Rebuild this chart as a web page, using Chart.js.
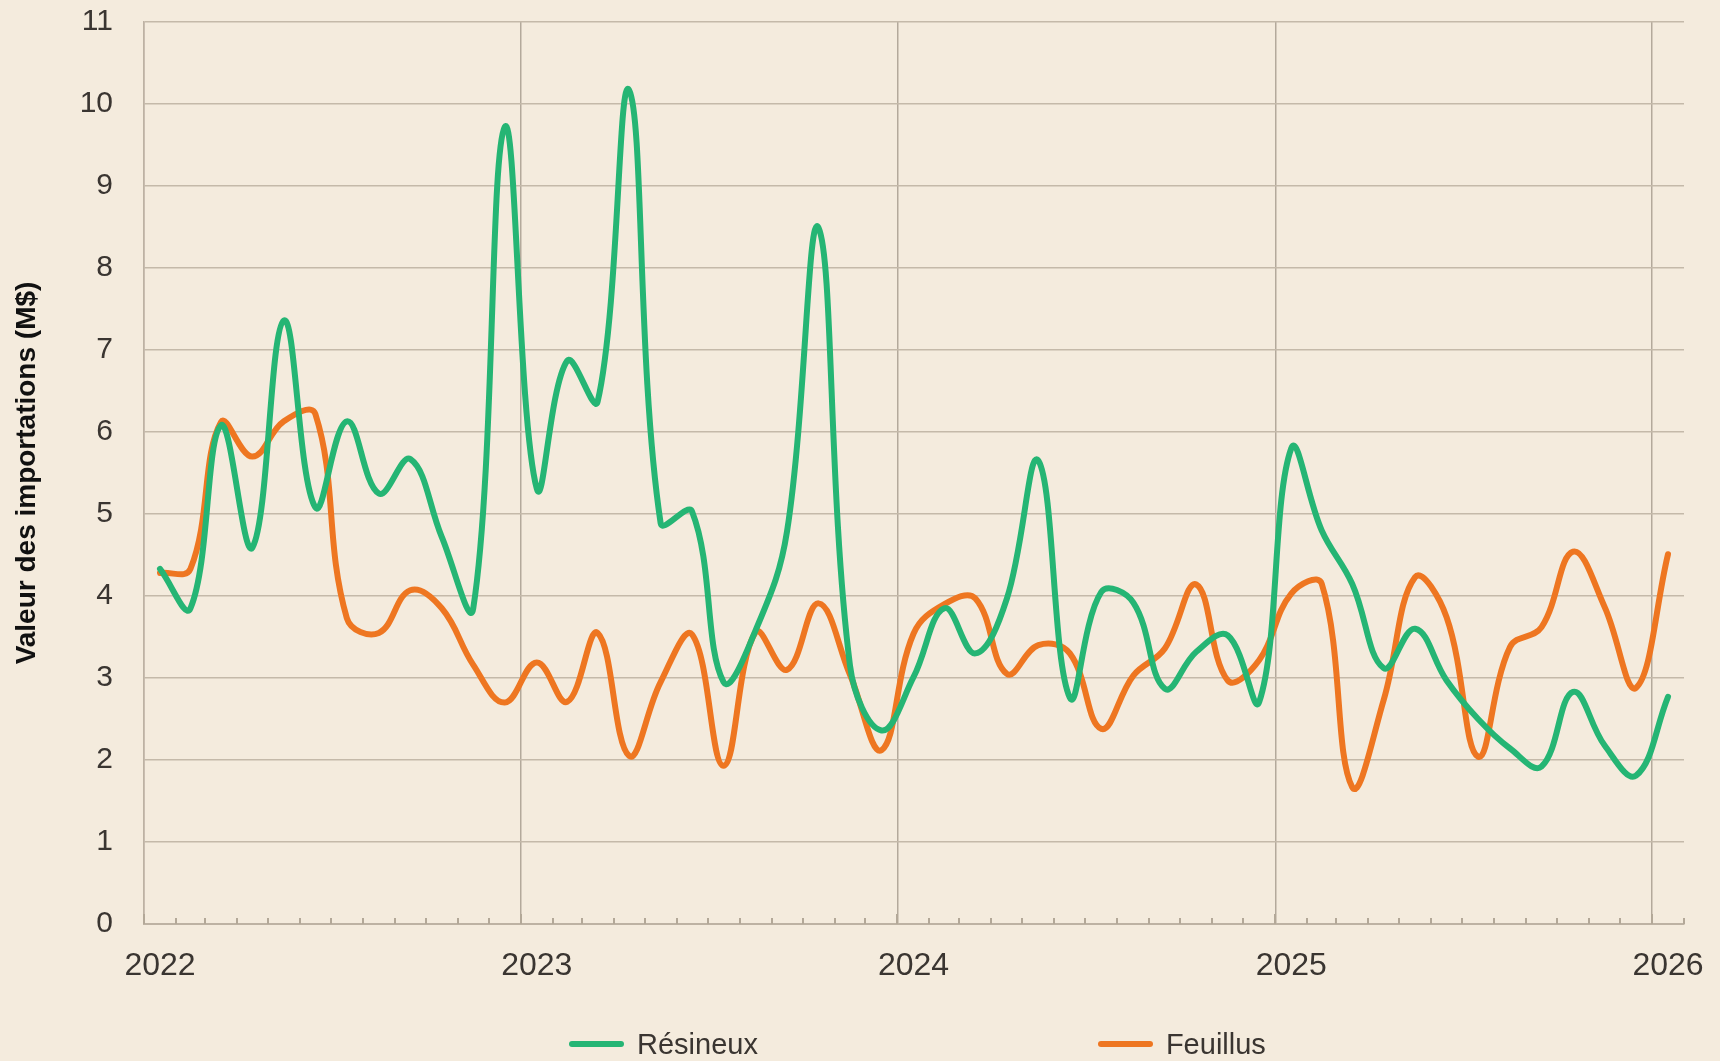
<!DOCTYPE html>
<html>
<head>
<meta charset="utf-8">
<script src="https://cdn.jsdelivr.net/npm/chart.js@4.4.1/dist/chart.umd.min.js"></script>
<style>
  html, body { margin: 0; padding: 0; background: #f4ebdd; }
  #wrap { position: relative; width: 1720px; height: 1061px; background: #f4ebdd; overflow: hidden; }
  #c { position: absolute; left: 0; top: 0; }
  #legend { position: absolute; left: 569px; top: 1024px; height: 40px; display: flex; align-items: center; gap: 340px;
            font-family: "Liberation Sans", Arial, sans-serif; font-size: 29px; color: #3a3531; }
  .item { display: flex; align-items: center; white-space: nowrap; }
  .sw { width: 55px; height: 6px; border-radius: 3px; margin-right: 13px; }
</style>
</head>
<body>
<div id="wrap">
  <canvas id="c" width="1720" height="1061"></canvas>
  <div id="legend"></div>
</div>
<script>
// ---- Data ----
const months = [
  '2022-01','2022-02','2022-03','2022-04','2022-05','2022-06','2022-07','2022-08','2022-09','2022-10','2022-11','2022-12',
  '2023-01','2023-02','2023-03','2023-04','2023-05','2023-06','2023-07','2023-08','2023-09','2023-10','2023-11','2023-12',
  '2024-01','2024-02','2024-03','2024-04','2024-05','2024-06','2024-07','2024-08','2024-09','2024-10','2024-11','2024-12',
  '2025-01','2025-02','2025-03','2025-04','2025-05','2025-06','2025-07','2025-08','2025-09','2025-10','2025-11','2025-12',
  '2026-01'
];
const resineux = [
  4.33, 3.85, 6.08, 4.59, 7.36, 5.08, 6.13, 5.25, 5.67, 4.72, 3.85, 9.72,
  5.31, 6.87, 6.37, 10.17, 4.89, 5.03, 2.95, 3.58, 4.79, 8.49, 3.15, 2.36,
  3.01, 3.85, 3.30, 3.97, 5.65, 2.76, 4.05, 3.92, 2.87, 3.32, 3.52, 2.71,
  5.80, 4.80, 4.15, 3.12, 3.60, 2.97, 2.50, 2.14, 1.92, 2.83, 2.18, 1.81,
  2.77
];
const feuillus = [
  4.28, 4.33, 6.12, 5.70, 6.13, 6.22, 3.73, 3.55, 4.07, 3.85, 3.16, 2.70,
  3.19, 2.71, 3.55, 2.05, 2.95, 3.53, 1.93, 3.56, 3.10, 3.91, 3.04, 2.12,
  3.54, 3.90, 3.97, 3.05, 3.40, 3.30, 2.38, 3.03, 3.36, 4.14, 2.97, 3.22,
  4.03, 4.15, 1.67, 2.73, 4.23, 3.74, 2.04, 3.38, 3.62, 4.54, 3.87, 2.88,
  4.51
];
const seriesNames = ['Résineux', 'Feuillus'];
const yearLabels = ['2022', '2023', '2024', '2025', '2026'];
const yTicks = [0, 1, 2, 3, 4, 5, 6, 7, 8, 9, 10, 11];
const yTitle = 'Valeur des importations (M$)';

// ---- Helpers (x = days since 2022-01-01) ----
const ORIGIN = Date.UTC(2022, 0, 1);
const DAY = 86400000;
function dayOf(y, m) { return (Date.UTC(y, m, 1) - ORIGIN) / DAY; } // m zero-based
function midMonth(str) {
  const [y, m] = str.split('-').map(Number);
  return (dayOf(y, m - 1) + dayOf(y, m)) / 2;
}
const yearDays = yearLabels.map(y => dayOf(Number(y), 0));
const xMax = dayOf(2026, 1);

const GREEN = '#25b574';
const ORANGE = '#ee7621';
const TEXT = '#3a3531';

Chart.defaults.font.family = "'Liberation Sans', Arial, sans-serif";

const monthTicks = {
  id: 'monthTicks',
  beforeDatasetsDraw(chart) {
    const xs = chart.scales.x;
    const ctx = chart.ctx;
    const bottom = chart.chartArea.bottom;
    ctx.save();
    ctx.strokeStyle = '#b3a898';
    ctx.lineWidth = 2;
    for (let y = 2022; y <= 2026; y++) {
      for (let m = 0; m < 12; m++) {
        const d = dayOf(y, m);
        if (d > xMax) break;
        const px = Math.round(xs.getPixelForValue(d));
        const len = m === 0 ? 10 : 6;
        ctx.beginPath();
        ctx.moveTo(px, bottom);
        ctx.lineTo(px, bottom - len);
        ctx.stroke();
      }
    }
    ctx.restore();
  }
};

const chart = new Chart(document.getElementById('c'), {
  type: 'line',
  data: {
    datasets: [
      {
        label: seriesNames[0],
        data: months.map((m, i) => ({ x: midMonth(m), y: resineux[i] })),
        borderColor: GREEN, backgroundColor: GREEN,
        borderWidth: 6, tension: 0.4, pointRadius: 0,
        borderCapStyle: 'round', borderJoinStyle: 'round'
      },
      {
        label: seriesNames[1],
        data: months.map((m, i) => ({ x: midMonth(m), y: feuillus[i] })),
        borderColor: ORANGE, backgroundColor: ORANGE,
        borderWidth: 6, tension: 0.4, pointRadius: 0,
        borderCapStyle: 'round', borderJoinStyle: 'round'
      }
    ]
  },
  options: {
    responsive: false,
    animation: false,
    layout: { padding: { left: 0, right: 36, top: 22, bottom: 80 } },
    plugins: { legend: { display: false }, tooltip: { enabled: false } },
    scales: {
      x: {
        type: 'linear', min: 0, max: xMax,
        afterBuildTicks: s => { s.ticks = yearDays.map(v => ({ value: v })); },
        afterFit: s => { s.height = 1061 - 80 - 924; s.paddingLeft = 0; s.paddingRight = 0; },
        ticks: {
          autoSkip: false, maxRotation: 0, padding: 23, labelOffset: 16, color: TEXT, font: { size: 32 },
          callback: v => { const i = yearDays.indexOf(v); return i >= 0 ? yearLabels[i] : ''; }
        },
        grid: { color: '#b3a99b', lineWidth: 1.5, drawTicks: false },
        border: { color: '#bdb2a3', width: 2 }
      },
      y: {
        min: yTicks[0], max: yTicks[yTicks.length - 1],
        afterBuildTicks: s => { s.ticks = yTicks.map(v => ({ value: v })); },
        afterFit: s => { s.width = 144; s.paddingTop = 0; s.paddingBottom = 0; },
        ticks: { padding: 31, color: TEXT, font: { size: 30 } },
        grid: { color: '#c4b9a9', lineWidth: 1.5, drawTicks: false },
        border: { color: '#bdb2a3', width: 1.5 },
        title: { display: true, text: yTitle, color: '#111', font: { size: 28, weight: 'bold' }, padding: { top: 10, bottom: 0 } }
      }
    }
  },
  plugins: [monthTicks]
});

// HTML legend built from datasets
const leg = document.getElementById('legend');
chart.data.datasets.forEach(ds => {
  const item = document.createElement('div');
  item.className = 'item';
  const sw = document.createElement('span');
  sw.className = 'sw';
  sw.style.background = ds.borderColor;
  const tx = document.createElement('span');
  tx.textContent = ds.label;
  item.appendChild(sw); item.appendChild(tx);
  leg.appendChild(item);
});
</script>
</body>
</html>
